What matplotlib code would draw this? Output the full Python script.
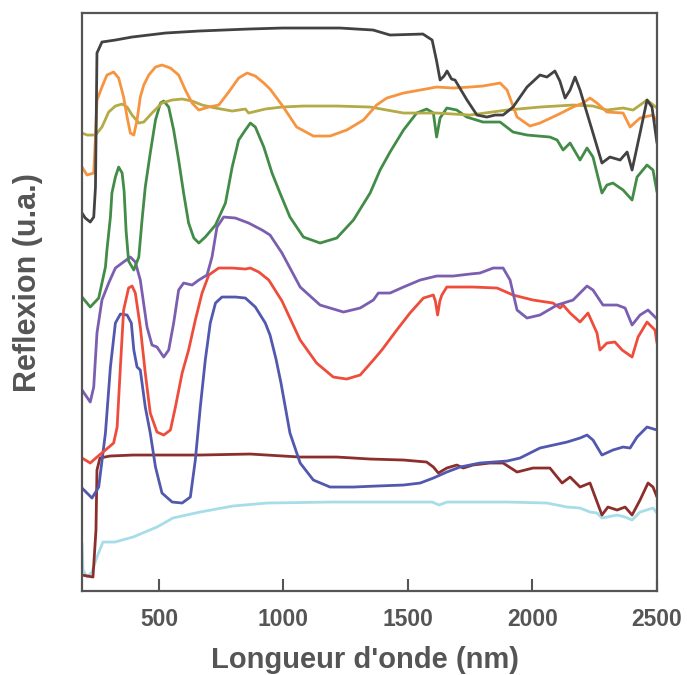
import matplotlib
matplotlib.use("Agg")
import matplotlib.pyplot as plt

plt.rcParams['font.family'] = ['Liberation Sans', 'DejaVu Sans']

# Wavelength (nm) and reflectance (arbitrary units, offset spectra)
black_x = [191, 204, 224, 238, 245, 251, 271, 325, 392, 526, 660, 860, 994, 1227, 1360, 1428, 1560, 1597, 1615, 1629, 1645, 1657, 1675, 1689, 1737, 1777, 1817, 1850, 1882, 1922, 1978, 2030, 2058, 2090, 2110, 2131, 2151, 2171, 2191, 2243, 2279, 2311, 2352, 2380, 2400, 2432, 2460, 2480, 2500]
black_y = [378, 373, 369, 374, 404, 538, 549, 551, 554, 558, 560, 562, 563, 563, 561, 556, 557, 551, 530, 511, 515, 520, 512, 511, 491, 476, 474, 476, 476, 484, 504, 516, 514, 520, 510, 493, 501, 514, 501, 458, 428, 434, 431, 439, 421, 458, 491, 484, 448]

orange_x = [191, 211, 238, 245, 251, 271, 291, 318, 338, 358, 372, 385, 399, 412, 425, 439, 459, 486, 512, 546, 579, 606, 633, 660, 700, 740, 780, 820, 854, 887, 921, 946, 994, 1053, 1120, 1187, 1254, 1321, 1374, 1415, 1482, 1549, 1615, 1682, 1749, 1801, 1870, 1898, 1938, 1990, 2030, 2099, 2163, 2203, 2231, 2259, 2299, 2364, 2392, 2432, 2484, 2500]
orange_y = [424, 416, 418, 454, 491, 504, 516, 519, 513, 494, 474, 458, 456, 471, 494, 506, 516, 524, 526, 523, 516, 501, 488, 481, 484, 486, 499, 513, 518, 515, 508, 502, 486, 464, 455, 455, 461, 471, 486, 493, 498, 501, 504, 503, 504, 505, 508, 501, 474, 465, 468, 476, 484, 488, 493, 488, 479, 478, 464, 473, 476, 469]

olive_x = [191, 211, 245, 271, 298, 325, 352, 372, 392, 419, 439, 472, 512, 552, 593, 633, 673, 727, 794, 847, 860, 927, 994, 1080, 1214, 1348, 1415, 1482, 1549, 1615, 1749, 1898, 2030, 2163, 2243, 2299, 2364, 2404, 2460, 2500]
olive_y = [458, 456, 456, 464, 479, 485, 487, 484, 476, 468, 469, 478, 488, 491, 492, 490, 486, 483, 480, 482, 478, 482, 484, 485, 485, 484, 481, 478, 478, 478, 476, 481, 484, 486, 485, 481, 483, 481, 491, 483]

green_x = [191, 224, 258, 285, 291, 305, 311, 325, 338, 352, 360, 368, 378, 399, 419, 432, 445, 465, 486, 506, 519, 539, 559, 579, 599, 619, 640, 660, 686, 727, 767, 794, 820, 847, 867, 887, 921, 954, 986, 1026, 1080, 1147, 1214, 1281, 1348, 1388, 1428, 1482, 1535, 1575, 1602, 1615, 1629, 1656, 1696, 1736, 1801, 1870, 1922, 1978, 2070, 2099, 2123, 2151, 2191, 2219, 2243, 2279, 2299, 2323, 2364, 2400, 2420, 2460, 2484, 2500]
green_y = [294, 284, 293, 324, 341, 374, 398, 414, 424, 418, 400, 360, 330, 321, 334, 371, 404, 438, 471, 488, 490, 484, 461, 431, 398, 368, 353, 348, 354, 366, 388, 424, 451, 461, 468, 464, 444, 418, 398, 374, 354, 348, 353, 371, 398, 421, 439, 461, 478, 482, 478, 454, 473, 483, 481, 474, 469, 469, 459, 456, 454, 451, 441, 448, 431, 443, 434, 398, 406, 408, 401, 391, 414, 426, 421, 399]

purple_x = [191, 224, 238, 251, 271, 298, 325, 352, 385, 405, 425, 452, 472, 492, 519, 539, 559, 579, 599, 633, 660, 693, 713, 733, 760, 807, 860, 914, 946, 994, 1067, 1147, 1241, 1308, 1361, 1381, 1428, 1482, 1549, 1615, 1682, 1749, 1789, 1842, 1882, 1910, 1938, 1978, 2030, 2099, 2163, 2191, 2219, 2243, 2283, 2340, 2372, 2400, 2432, 2464, 2484, 2500]
purple_y = [201, 189, 204, 258, 291, 308, 323, 328, 334, 329, 311, 264, 246, 244, 234, 241, 268, 301, 308, 306, 311, 316, 334, 364, 374, 373, 368, 361, 356, 338, 304, 286, 279, 283, 291, 298, 298, 304, 311, 315, 315, 317, 318, 323, 323, 311, 281, 273, 276, 286, 291, 298, 305, 301, 286, 286, 283, 266, 276, 281, 276, 272]

red_x = [191, 224, 251, 285, 318, 332, 345, 358, 378, 392, 405, 425, 445, 465, 492, 519, 546, 566, 593, 619, 646, 673, 700, 740, 794, 847, 867, 901, 941, 994, 1067, 1133, 1200, 1254, 1308, 1361, 1395, 1455, 1508, 1562, 1602, 1610, 1619, 1628, 1636, 1656, 1709, 1761, 1858, 1922, 2002, 2082, 2111, 2123, 2151, 2191, 2223, 2259, 2271, 2299, 2331, 2360, 2400, 2424, 2460, 2492, 2500]
red_y = [133, 128, 134, 141, 148, 164, 224, 281, 303, 305, 298, 264, 218, 178, 159, 156, 161, 184, 218, 241, 271, 298, 316, 323, 323, 322, 323, 319, 311, 290, 251, 228, 214, 212, 216, 231, 241, 261, 278, 293, 296, 290, 276, 290, 296, 304, 304, 304, 303, 296, 291, 288, 283, 286, 278, 269, 278, 258, 241, 248, 249, 241, 234, 254, 269, 261, 248]

blue_x = [191, 231, 258, 285, 305, 325, 345, 372, 389, 399, 412, 425, 445, 465, 486, 512, 553, 593, 626, 646, 666, 686, 706, 727, 753, 807, 847, 887, 927, 946, 970, 990, 1026, 1067, 1120, 1187, 1281, 1374, 1482, 1549, 1602, 1656, 1709, 1749, 1789, 1898, 1950, 2030, 2139, 2191, 2219, 2243, 2279, 2323, 2364, 2392, 2420, 2460, 2500]
blue_y = [103, 93, 104, 158, 224, 268, 277, 276, 268, 241, 224, 221, 184, 158, 124, 98, 89, 88, 94, 131, 184, 231, 268, 288, 294, 294, 293, 284, 268, 256, 232, 208, 158, 128, 111, 104, 104, 105, 106, 108, 113, 119, 124, 126, 128, 130, 133, 143, 149, 153, 156, 151, 136, 141, 144, 143, 154, 164, 161]

brown_x = [191, 235, 247, 251, 263, 303, 396, 665, 866, 1066, 1214, 1348, 1482, 1575, 1602, 1622, 1656, 1696, 1722, 1761, 1829, 1882, 1938, 2002, 2070, 2119, 2151, 2191, 2231, 2279, 2303, 2340, 2372, 2400, 2432, 2464, 2484, 2500]
brown_y = [16, 14, 61, 121, 133, 135, 136, 136, 137, 134, 134, 132, 131, 129, 124, 118, 123, 126, 123, 126, 128, 128, 119, 123, 123, 108, 114, 104, 108, 76, 84, 81, 84, 76, 91, 108, 104, 94]

lightblue_x = [191, 195, 211, 231, 251, 275, 323, 396, 492, 556, 665, 797, 934, 1199, 1597, 1625, 1657, 1898, 2058, 2139, 2191, 2231, 2259, 2279, 2340, 2372, 2400, 2432, 2484, 2500]
lightblue_y = [48, 21, 14, 19, 34, 49, 49, 54, 64, 73, 79, 85, 88, 89, 89, 86, 89, 89, 88, 84, 83, 79, 78, 73, 76, 74, 71, 79, 83, 78]

series = [
    (lightblue_x, lightblue_y, '#A6DDE8'),
    (brown_x, brown_y, '#8C2F2C'),
    (blue_x, blue_y, '#5158AE'),
    (red_x, red_y, '#EF4D3B'),
    (purple_x, purple_y, '#7B5EAF'),
    (green_x, green_y, '#428C48'),
    (olive_x, olive_y, '#B4AA46'),
    (orange_x, orange_y, '#F7943F'),
    (black_x, black_y, '#424242'),
]

xticks = [500, 1000, 1500, 2000, 2500]

fig = plt.figure(figsize=(6.87, 6.75), dpi=100)
ax = fig.add_axes([0.1194, 0.1244, 0.8369, 0.8563])
for x, y, c in series:
    ax.plot(x, y, color=c, lw=2.0, solid_joinstyle='round', solid_capstyle='round')

ax.set_xlim(191, 2500)
ax.set_ylim(0, 578)
ax.set_xticks(xticks)
ax.set_xticklabels([str(t) for t in xticks])
ax.set_yticks([])
for s in ax.spines.values():
    s.set_color('#555555')
    s.set_linewidth(1.6)
ax.tick_params(axis='x', direction='in', length=9, width=1.5, color='#555555',
               labelsize=16.5, labelcolor='#555555', pad=12)
for lab in ax.get_xticklabels():
    lab.set_fontweight('bold')

fig.text(365 / 687, 1 - 660 / 675, "Longueur d'onde (nm)", fontsize=21, fontweight='bold',
         color='#555555', ha='center', va='center')
fig.text(28 / 687, 1 - 283 / 675, "Reflexion (u.a.)", fontsize=22, fontweight='bold',
         color='#555555', ha='center', va='center', rotation=90)

fig.savefig('out.png', dpi=100)
